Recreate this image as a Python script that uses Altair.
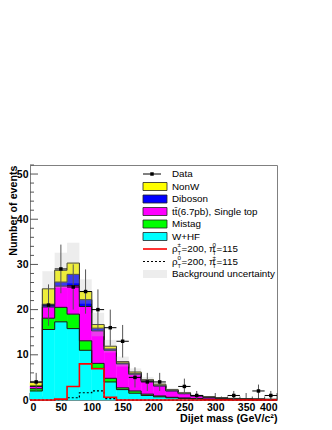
import altair as alt
import pandas as pd
import numpy as np

# ---------------- data ----------------
bin_lo = list(range(0, 400, 20))
bin_w = 20

whf     = [2.0, 15.6, 17.3, 15.8, 11.0, 7.0, 4.0, 2.3, 1.5, 1.0, 0.7, 0.5, 0.35, 0.25, 0.15, 0.1, 0.08, 0.06, 0.05, 0.04]
mistag  = [0.5, 2.5, 3.2, 3.2, 2.1, 1.1, 0.8, 0.4, 0.5, 0.3, 0.2, 0.1, 0.1, 0.05, 0.05, 0.03, 0.02, 0.02, 0.01, 0.01]
ttbar   = [0.5, 2.5, 4.7, 6.3, 7.6, 7.2, 6.2, 5.3, 3.7, 2.8, 2.2, 1.4, 0.95, 0.6, 0.4, 0.27, 0.2, 0.14, 0.11, 0.07]
diboson = [0.1, 0.6, 0.9, 2.5, 1.5, 0.6, 0.3, 0.2, 0.2, 0.2, 0.15, 0.1, 0.1, 0.05, 0.05, 0.03, 0.02, 0.02, 0.01, 0.01]
nonw    = [0.8, 3.4, 2.6, 2.5, 1.8, 0.8, 0.6, 0.3, 0.3, 0.2, 0.25, 0.2, 0.1, 0.05, 0.05, 0.04, 0.03, 0.02, 0.02, 0.02]
bkg_unc = [0.5, 3.9, 3.9, 4.5, 2.7, 2.6, 1.4, 1.1, 0.8, 0.6, 0.45, 0.35, 0.25, 0.15, 0.1, 0.07, 0.05, 0.04, 0.03, 0.03]

data_n  = [4, 21, 29, 25, 24, 20, 16, 13, 5, 4, 4, 0, 3, 1, 0, 0, 1, 0, 2, 1]

sig_charged = [0, 0, 0.2, 3.0, 8.0, 6.9, 0.6, 0, 0, 0, 0, 0, 0, 0, 0, 0, 0, 0, 0, 0]
sig_neutral = [0, 0, 0.1, 0.5, 1.6, 2.0, 0.3, 0, 0, 0, 0, 0, 0, 0, 0, 0, 0, 0, 0, 0]

comp_names  = ["W+HF", "Mistag", "Top", "Diboson", "NonW"]
comp_colors = ["#00ffff", "#00ff00", "#ff00ff", "#0000ff", "#ffff00"]
comp_vals   = [whf, mistag, ttbar, diboson, nonw]

x_ticks_major = list(range(0, 401, 50))
x_ticks_minor = [v for v in range(0, 401, 10) if v % 50]
y_ticks_major = list(range(0, 51, 10))
y_ticks_minor = [v for v in range(0, 53, 2) if v % 10]

legend_labels = ["Data", "NonW", "Diboson", "tt\u0304(6.7pb), Single top", "Mistag", "W+HF",
                 "", "", "Background uncertainty"]

FONT = "Liberation Sans"
HATCH = "#c4c4c4"
HATCH_OP = 0.3

# ---------------- tables ----------------
rects, steps = [], []
cum = np.zeros(len(bin_lo))
for k, (name, vals) in enumerate(zip(comp_names, comp_vals)):
    vals = np.array(vals, dtype=float)
    for i, lo in enumerate(bin_lo):
        rects.append(dict(comp=name, lo=lo, hi=lo + bin_w, y0=cum[i], y1=cum[i] + vals[i]))
    top = cum + vals
    for i, lo in enumerate(bin_lo):
        steps.append(dict(comp=name, x=lo, y=top[i]))
    steps.append(dict(comp=name, x=bin_lo[-1] + bin_w, y=top[-1]))
    cum = top
total = cum
rect_df = pd.DataFrame(rects)
step_df = pd.DataFrame(steps)

unc_df = pd.DataFrame(dict(lo=bin_lo, hi=[b + bin_w for b in bin_lo],
                           y0=total - np.array(bkg_unc), y1=total + np.array(bkg_unc)))

def step_table(vals, name):
    xs = bin_lo + [bin_lo[-1] + bin_w]
    ys = list(vals) + [vals[-1]]
    return pd.DataFrame(dict(x=xs, y=ys, s=name))

sigc_df = step_table(sig_charged, "c")
sign_df = step_table(sig_neutral, "n")

dn = np.array(data_n, dtype=float)
data_df = pd.DataFrame(dict(c=[b + bin_w / 2 for b in bin_lo], lo=bin_lo,
                            hi=[b + bin_w for b in bin_lo], n=dn,
                            elo=dn - np.sqrt(dn), ehi=dn + np.sqrt(dn)))
data_df = data_df[data_df.n > 0]

# ---------------- scales / axes ----------------
xscale = alt.Scale(domain=[0, 400], nice=False, zero=False)
yscale = alt.Scale(domain=[0, 52], nice=False, zero=False)
XAX = alt.Axis(values=x_ticks_major, ticks=False, domain=False, grid=False,
               labelFont=FONT, labelFontWeight="bold", labelFontSize=10.5, labelColor="black",
               labelPadding=2, format="d",
               title="Dijet mass (GeV/c\u00b2)", titleFont=FONT, titleFontWeight="bold",
               titleFontSize=10.7, titleColor="black", titleAnchor="end", titleY=21,
               titleBaseline="alphabetic")
YAX = alt.Axis(values=y_ticks_major, ticks=False, domain=False, grid=False,
               labelFont=FONT, labelFontWeight="bold", labelFontSize=10.5, labelColor="black",
               labelPadding=2, format="d",
               title="Number of events", titleFont=FONT, titleFontWeight="bold",
               titleFontSize=10.7, titleColor="black", titleAngle=270, titleX=-14, titleY=0,
               titleAlign="right", titleBaseline="alphabetic")

def X(f):
    return alt.X(f, type="quantitative", scale=xscale, axis=XAX)

def Y(f):
    return alt.Y(f, type="quantitative", scale=yscale, axis=YAX)

col_scale = alt.Scale(domain=comp_names, range=comp_colors)

# ticks (drawn under the histograms, like ROOT)
ytM = alt.Chart(pd.DataFrame(dict(v=y_ticks_major))).mark_rule(color="#555", strokeWidth=1).encode(
    y=Y("v"), x=alt.value(0), x2=alt.value(8))
ytm = alt.Chart(pd.DataFrame(dict(v=y_ticks_minor))).mark_rule(color="#555", strokeWidth=1).encode(
    y=Y("v"), x=alt.value(0), x2=alt.value(4))
xtM = alt.Chart(pd.DataFrame(dict(v=x_ticks_major))).mark_rule(color="#555", strokeWidth=1).encode(
    x=X("v"), y=alt.value(235), y2=alt.value(228))
xtm = alt.Chart(pd.DataFrame(dict(v=x_ticks_minor))).mark_rule(color="#555", strokeWidth=1).encode(
    x=X("v"), y=alt.value(235), y2=alt.value(231.5))

fills = alt.Chart(rect_df).mark_rect(strokeWidth=0.4).encode(
    x=X("lo"), x2="hi", y=Y("y0"), y2="y1",
    color=alt.Color("comp:N", scale=col_scale, legend=None),
    stroke=alt.Stroke("comp:N", scale=col_scale, legend=None))

outlines = alt.Chart(step_df).mark_line(interpolate="step-after", color="#1a1a1a", strokeWidth=1).encode(
    x=X("x"), y=Y("y"), detail="comp:N")

unc = alt.Chart(unc_df).mark_rect(color=HATCH, opacity=HATCH_OP).encode(
    x=X("lo"), x2="hi", y=Y("y0"), y2="y1")

sig_n = alt.Chart(sign_df).mark_line(interpolate="step-after", color="black", strokeWidth=1.2,
                                     strokeDash=[2, 2]).encode(x=X("x"), y=Y("y"))
sig_c = alt.Chart(sigc_df).mark_line(interpolate="step-after", color="#ff0000", strokeWidth=1.6).encode(
    x=X("x"), y=Y("y"))

err_v = alt.Chart(data_df).mark_rule(color="#555", strokeWidth=1).encode(
    x=X("c"), y=Y("elo"), y2="ehi")
err_h = alt.Chart(data_df).mark_rule(color="black", strokeWidth=1).encode(
    x=X("lo"), x2="hi", y=Y("n"))
pts = alt.Chart(data_df).mark_square(color="black", size=12, opacity=1).encode(
    x=X("c"), y=Y("n"))

# ---------------- hand-built legend (pixel coordinates of the plot area) ----------------
row_y = [9 + 12.5 * i for i in range(len(legend_labels))]
sx0, sx1, tx = 113, 137, 142

lab_df = pd.DataFrame(dict(t=[l for l in legend_labels if l],
                           y=[row_y[i] for i, l in enumerate(legend_labels) if l]))
lab_txt = alt.Chart(lab_df).mark_text(align="left", baseline="middle", font=FONT, fontSize=9.8,
                                      color="black").encode(
    x=alt.value(tx), y=alt.Y("y:Q", scale=None, axis=None), text="t:N")

box_rows = [1, 2, 3, 4, 5]
box_df = pd.DataFrame(dict(comp=["NonW", "Diboson", "Top", "Mistag", "W+HF"],
                           y0=[row_y[i] - 4 for i in box_rows], y1=[row_y[i] + 4 for i in box_rows]))
boxes = alt.Chart(box_df).mark_rect(stroke="#222", strokeWidth=0.8).encode(
    x=alt.value(sx0), x2=alt.value(sx1),
    y=alt.Y("y0:Q", scale=None, axis=None), y2="y1",
    fill=alt.Fill("comp:N", scale=col_scale, legend=None))

unc_box = alt.Chart(pd.DataFrame(dict(y0=[row_y[8] - 4], y1=[row_y[8] + 4]))).mark_rect(
    color=HATCH, opacity=HATCH_OP).encode(
    x=alt.value(sx0), x2=alt.value(sx1), y=alt.Y("y0:Q", scale=None, axis=None), y2="y1")

data_line = alt.Chart(pd.DataFrame(dict(y=[row_y[0]]))).mark_rule(color="black", strokeWidth=1).encode(
    x=alt.value(sx0), x2=alt.value(131), y=alt.Y("y:Q", scale=None, axis=None))
data_pt = alt.Chart(pd.DataFrame(dict(y=[row_y[0]]))).mark_square(color="black", size=12, opacity=1).encode(
    x=alt.value(122), y=alt.Y("y:Q", scale=None, axis=None))
red_line = alt.Chart(pd.DataFrame(dict(y=[row_y[6]]))).mark_rule(color="#ff0000", strokeWidth=1.6).encode(
    x=alt.value(sx0), x2=alt.value(sx1), y=alt.Y("y:Q", scale=None, axis=None))
dot_line = alt.Chart(pd.DataFrame(dict(y=[row_y[7]]))).mark_rule(color="black", strokeWidth=1.2,
                                                                  strokeDash=[2, 2]).encode(
    x=alt.value(sx0), x2=alt.value(sx1), y=alt.Y("y:Q", scale=None, axis=None))

# rho / pi labels with super- and subscripts
segs = []
for r, (s1, s2) in zip([6, 7], [("\u00b1", "0"), ("0", "\u00b1")]):
    y = row_y[r]
    segs += [
        dict(t="\u03c1", x=tx, y=y, s=9.8),
        dict(t=s1, x=tx + 5.6, y=y - 3.8, s=6.2),
        dict(t="T", x=tx + 5.6, y=y + 4.2, s=5.8),
        dict(t="=200, \u03c0", x=tx + 9.6, y=y, s=9.8),
        dict(t=s2, x=tx + 40.5, y=y - 3.8, s=6.2),
        dict(t="T", x=tx + 40.5, y=y + 4.2, s=5.8),
        dict(t="=115", x=tx + 44.5, y=y, s=9.8),
    ]
seg_df = pd.DataFrame(segs)
seg_txt = alt.Chart(seg_df).mark_text(align="left", baseline="middle", font=FONT, color="black").encode(
    x=alt.X("x:Q", scale=None, axis=None), y=alt.Y("y:Q", scale=None, axis=None),
    text="t:N", size=alt.Size("s:Q", scale=None, legend=None))

chart = alt.layer(
    ytM, ytm, xtM, xtm,
    fills, outlines, unc, sig_n, sig_c, err_v, err_h, pts,
    data_line, data_pt, boxes, unc_box, red_line, dot_line, lab_txt, seg_txt,
).properties(
    width=247, height=235,
    padding={"left": 22, "top": 157, "right": 40, "bottom": 25},
    autosize=alt.AutoSizeParams(type="none"),
    background="white",
).configure_view(stroke="#808080", strokeWidth=1)

chart.save("out.html", embed_options={"renderer": "svg", "actions": False})
